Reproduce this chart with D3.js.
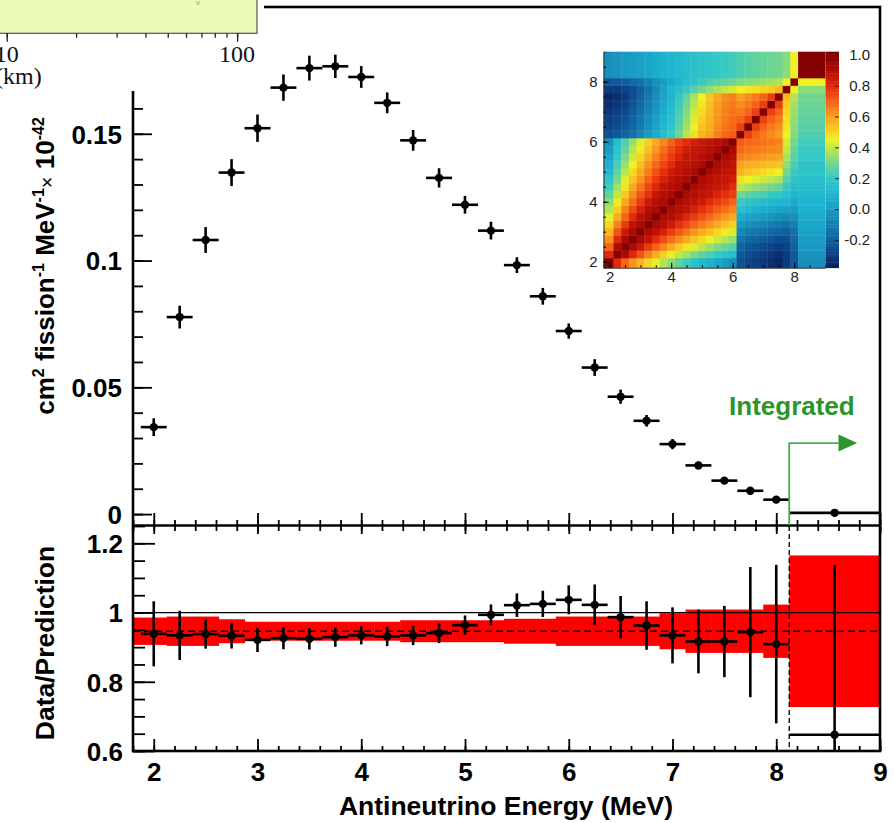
<!DOCTYPE html>
<html lang="en">
<head>
<meta charset="UTF-8">
<title>Antineutrino spectrum</title>
<script src="https://d3js.org/d3.v7.min.js"></script>
<style>
  body { margin: 0; background: #fff; }
</style>
</head>
<body>
<svg id="chart" width="894" height="823"></svg>
<script>
// measured spectrum, 0.25 MeV bins
const energy = [2.0, 2.25, 2.5, 2.75, 3.0, 3.25, 3.5, 3.75, 4.0, 4.25, 4.5, 4.75, 5.0,
                5.25, 5.5, 5.75, 6.0, 6.25, 6.5, 6.75, 7.0, 7.25, 7.5, 7.75, 8.0];
const flux = [0.0343, 0.0777, 0.1081, 0.1347, 0.1522, 0.1682, 0.1759, 0.1766, 0.1724, 0.1622,
              0.1474, 0.1326, 0.1220, 0.1118, 0.0982, 0.0859, 0.0722, 0.0578, 0.0463, 0.0368,
              0.0276, 0.0192, 0.0132, 0.0092, 0.0057];
const fluxErr = [0.0035, 0.0045, 0.0051, 0.0053, 0.0054, 0.0052, 0.0049, 0.0046, 0.0043, 0.0041,
                 0.0041, 0.0038, 0.0035, 0.0035, 0.0031, 0.0033, 0.0030, 0.0033, 0.0028, 0.0023,
                 0.0020, 0.0015, 0.0012, 0.0010, 0.0008];
const ratio = [0.9385, 0.934, 0.9377, 0.933, 0.921, 0.926, 0.924, 0.929, 0.934, 0.931,
               0.934, 0.9405, 0.9636, 0.9934, 1.0213, 1.025, 1.0367, 1.0222, 0.9867, 0.9625,
               0.934, 0.9163, 0.9163, 0.9434, 0.9088];
const ratioErr = [0.094, 0.071, 0.042, 0.037, 0.035, 0.032, 0.031, 0.028, 0.026, 0.028,
                  0.028, 0.029, 0.028, 0.030, 0.034, 0.038, 0.042, 0.059, 0.061, 0.070,
                  0.081, 0.092, 0.103, 0.188, 0.229];
const binHalf = 0.125;

// integrated bin above 8.125 MeV
const intLow = 8.125, intHigh = 9, intCenter = 8.5625;
const intFlux = 0.0005;
const intRatio = 0.647, intRatioErr = 0.49;

// prediction band (normalised), one entry per bin incl. integrated
const predNorm = 0.946;
const binEdges = [1.8, 2.125, 2.375, 2.625, 2.875, 3.125, 3.375, 3.625, 3.875, 4.125, 4.375,
                  4.625, 4.875, 5.125, 5.375, 5.625, 5.875, 6.125, 6.375, 6.625, 6.875,
                  7.125, 7.375, 7.625, 7.875, 8.125, 9];
const bandErr = [0.0395, 0.0424, 0.0424, 0.0346, 0.0274, 0.0274, 0.0274, 0.0274, 0.0274, 0.0274,
                 0.0317, 0.0317, 0.0317, 0.0317, 0.036, 0.036, 0.0424, 0.0424, 0.0424, 0.0424,
                 0.052, 0.0626, 0.0626, 0.0626, 0.077, 0.219];

// correlation matrix, lower triangle (row i holds columns 0..i)
const corrRows = [
  [1],
  [0.80, 1],
  [0.70, 0.91, 1],
  [0.62, 0.81, 0.91, 1],
  [0.56, 0.73, 0.85, 0.91, 1],
  [0.50, 0.65, 0.77, 0.87, 0.91, 1],
  [0.44, 0.58, 0.70, 0.80, 0.88, 0.91, 1],
  [0.38, 0.51, 0.64, 0.74, 0.83, 0.89, 0.91, 1],
  [0.33, 0.46, 0.58, 0.68, 0.77, 0.85, 0.89, 0.91, 1],
  [0.27, 0.40, 0.52, 0.63, 0.72, 0.79, 0.86, 0.89, 0.91, 1],
  [0.22, 0.36, 0.47, 0.58, 0.67, 0.75, 0.81, 0.87, 0.89, 0.91, 1],
  [0.17, 0.31, 0.43, 0.53, 0.62, 0.70, 0.77, 0.83, 0.87, 0.89, 0.91, 1],
  [0.12, 0.27, 0.39, 0.49, 0.58, 0.66, 0.73, 0.79, 0.85, 0.87, 0.89, 0.91, 1],
  [0.08, 0.24, 0.35, 0.45, 0.54, 0.62, 0.69, 0.75, 0.80, 0.86, 0.87, 0.89, 0.91, 1],
  [0.04, 0.20, 0.31, 0.41, 0.50, 0.58, 0.65, 0.71, 0.77, 0.82, 0.86, 0.87, 0.89, 0.91, 1],
  [0.00, 0.17, 0.28, 0.38, 0.46, 0.54, 0.61, 0.68, 0.74, 0.79, 0.84, 0.86, 0.87, 0.89, 0.91, 1],
  [-0.04, 0.14, 0.25, 0.35, 0.43, 0.51, 0.58, 0.64, 0.70, 0.76, 0.80, 0.84, 0.86, 0.87, 0.89, 0.91, 1],
  [-0.24, -0.22, -0.19, -0.14, -0.08, -0.01, 0.06, 0.14, 0.21, 0.30, 0.39, 0.48, 0.56, 0.59, 0.65, 0.69, 0.71, 1],
  [-0.27, -0.25, -0.22, -0.17, -0.11, -0.04, 0.03, 0.11, 0.18, 0.27, 0.36, 0.45, 0.53, 0.57, 0.63, 0.67, 0.69, 0.76, 1],
  [-0.29, -0.27, -0.24, -0.19, -0.13, -0.06, 0.01, 0.09, 0.16, 0.25, 0.34, 0.43, 0.51, 0.56, 0.62, 0.66, 0.68, 0.70, 0.76, 1],
  [-0.31, -0.29, -0.26, -0.21, -0.15, -0.08, -0.01, 0.07, 0.14, 0.23, 0.32, 0.41, 0.49, 0.55, 0.61, 0.65, 0.67, 0.66, 0.70, 0.76, 1],
  [-0.33, -0.31, -0.28, -0.23, -0.17, -0.10, -0.03, 0.05, 0.12, 0.21, 0.30, 0.39, 0.47, 0.54, 0.60, 0.64, 0.66, 0.63, 0.66, 0.70, 0.76, 1],
  [-0.35, -0.33, -0.30, -0.25, -0.19, -0.12, -0.05, 0.03, 0.10, 0.19, 0.28, 0.37, 0.45, 0.53, 0.59, 0.63, 0.65, 0.60, 0.63, 0.66, 0.70, 0.76, 1],
  [-0.30, -0.30, -0.28, -0.25, -0.20, -0.14, -0.06, 0.02, 0.10, 0.15, 0.20, 0.26, 0.30, 0.34, 0.37, 0.40, 0.42, 0.45, 0.47, 0.48, 0.50, 0.52, 0.55, 1],
  [-0.22, -0.22, -0.20, -0.18, -0.15, -0.10, -0.05, 0.00, 0.05, 0.10, 0.14, 0.18, 0.21, 0.24, 0.26, 0.28, 0.30, 0.32, 0.33, 0.34, 0.35, 0.36, 0.38, 0.45, 1],
  [-0.05, -0.03, -0.01, 0.00, 0.02, 0.04, 0.06, 0.08, 0.10, 0.12, 0.14, 0.16, 0.17, 0.18, 0.20, 0.21, 0.22, 0.24, 0.26, 0.27, 0.28, 0.29, 0.30, 0.33, 0.45, 1]
];
const paletteStops = [-0.38, -0.3, -0.2, -0.1, 0.0, 0.1, 0.2, 0.3, 0.4, 0.45, 0.5, 0.6, 0.7, 0.8, 0.9, 1.02];
const paletteColors = ["#081c58", "#0c3c80", "#1060a0", "#1580b0", "#1a9cc4", "#20b6d0", "#34c8c6",
                       "#72d690", "#c2e844", "#eef222", "#f8d422", "#f8a020", "#f66218", "#e22a0c",
                       "#b00c04", "#7a0000"];
const colorTicks = [-0.2, 0.0, 0.2, 0.4, 0.6, 0.8, 1.0];
const insetTicks = [2, 4, 6, 8];

const upperTicks = [0, 0.05, 0.1, 0.15];
const lowerTicks = [0.6, 0.8, 1, 1.2];
const energyTicks = [2, 3, 4, 5, 6, 7, 8, 9];
const distTicks = [10, 20, 30, 40, 50, 60, 70, 80, 90, 100];

const FONT = '"Liberation Sans", Arial, Helvetica, sans-serif';
const SERIF = '"Liberation Serif", "Times New Roman", serif';

const svg = d3.select("#chart");

const x = d3.scaleLinear().domain([1.8, 9]).range([133, 880]);
const yTop = d3.scaleLinear().domain([-0.0043, 0.2]).range([525, 7]);
const yBot = d3.scaleLinear().domain([0.6, 1.25]).range([751, 526]);

svg.append("defs").append("clipPath").attr("id", "lowclip")
  .append("rect").attr("x", 133).attr("y", 526).attr("width", 747).attr("height", 225);

// ---- lower panel: band, reference lines
const low = svg.append("g").attr("clip-path", "url(#lowclip)");
low.selectAll("rect.band").data(bandErr).join("rect")
  .attr("class", "band")
  .attr("x", (d, i) => x(binEdges[i]))
  .attr("width", (d, i) => x(binEdges[i + 1]) - x(binEdges[i]) + 0.5)
  .attr("y", d => yBot(predNorm + d))
  .attr("height", d => yBot(predNorm - d) - yBot(predNorm + d))
  .attr("fill", "#ff0000");

low.append("line").attr("x1", 133).attr("x2", 880).attr("y1", yBot(1)).attr("y2", yBot(1))
  .attr("stroke", "#000").attr("stroke-width", 1.2);
low.append("line").attr("x1", 133).attr("x2", 877).attr("y1", yBot(predNorm)).attr("y2", yBot(predNorm))
  .attr("stroke", "#000").attr("stroke-width", 1.6).attr("stroke-dasharray", "7,4");
low.append("line").attr("x1", x(intLow)).attr("x2", x(intLow)).attr("y1", 526).attr("y2", 751)
  .attr("stroke", "#000").attr("stroke-width", 1.3).attr("stroke-dasharray", "5,3");

function crosses(g, xs, ys, yerr, yScale) {
  xs.forEach((e, i) => {
    const px = x(e), py = yScale(ys[i]);
    g.append("line").attr("x1", x(e - binHalf)).attr("x2", x(e + binHalf)).attr("y1", py).attr("y2", py);
    g.append("line").attr("x1", px).attr("x2", px)
      .attr("y1", yScale(ys[i] - yerr[i])).attr("y2", yScale(ys[i] + yerr[i]));
    g.append("circle").attr("cx", px).attr("cy", py).attr("r", 4.2).attr("fill", "#000").attr("stroke", "none");
  });
}

const lowPts = low.append("g").attr("stroke", "#000").attr("stroke-width", 2.6);
crosses(lowPts, energy, ratio, ratioErr, yBot);
lowPts.append("line").attr("x1", x(intLow)).attr("x2", x(intHigh))
  .attr("y1", yBot(intRatio)).attr("y2", yBot(intRatio));
lowPts.append("line").attr("x1", x(intCenter)).attr("x2", x(intCenter))
  .attr("y1", yBot(intRatio - intRatioErr)).attr("y2", yBot(intRatio + intRatioErr));
lowPts.append("circle").attr("cx", x(intCenter)).attr("cy", yBot(intRatio)).attr("r", 4.2).attr("stroke", "none");

// ---- upper panel points
const upPts = svg.append("g").attr("stroke", "#000").attr("stroke-width", 2.6);
crosses(upPts, energy, flux, fluxErr, yTop);
upPts.append("line").attr("x1", x(intLow)).attr("x2", x(intHigh))
  .attr("y1", yTop(intFlux)).attr("y2", yTop(intFlux));
upPts.append("circle").attr("cx", x(intCenter)).attr("cy", yTop(intFlux)).attr("r", 4.2).attr("stroke", "none");

// ---- axes
function styleAxis(g, size) {
  g.select(".domain").remove();
  g.attr("font-family", FONT).attr("font-size", size).attr("font-weight", "bold");
  g.selectAll(".tick line").attr("stroke", "#000").attr("stroke-width", 1.8);
  g.selectAll(".tick text").attr("fill", "#000");
}

svg.append("g").attr("transform", "translate(133,0)")
  .call(d3.axisLeft(yTop).tickValues(d3.range(0, 0.175, 0.01)).tickSize(-10).tickFormat(""))
  .call(g => styleAxis(g, 26));
svg.append("g").attr("transform", "translate(133,0)")
  .call(d3.axisLeft(yTop).tickValues(upperTicks).tickSize(-19).tickPadding(11).tickFormat(d => String(d)))
  .call(g => styleAxis(g, 26))
  .call(g => g.selectAll(".tick text").attr("dy", "0.36em"));

svg.append("g").attr("transform", "translate(133,0)")
  .call(d3.axisLeft(yBot).tickValues(d3.range(0.6, 1.26, 0.05)).tickSize(-12).tickFormat(""))
  .call(g => styleAxis(g, 26));
svg.append("g").attr("transform", "translate(133,0)")
  .call(d3.axisLeft(yBot).tickValues(lowerTicks).tickSize(-22).tickPadding(10).tickFormat(d => String(d)))
  .call(g => styleAxis(g, 26))
  .call(g => g.selectAll(".tick text").attr("dy", "0.36em"));

const minorE = d3.range(1.8, 9.01, 0.2);
[[525, "bottom", -12, -5], [526, "top", -8, -5], [751, "bottom", -12, -5]].forEach(([yy, side, big, small]) => {
  const mk = side === "top" ? d3.axisTop : d3.axisBottom;
  svg.append("g").attr("transform", `translate(0,${yy})`)
    .call(mk(x).tickValues(minorE).tickSize(small).tickFormat(""))
    .call(g => styleAxis(g, 26));
  svg.append("g").attr("transform", `translate(0,${yy})`)
    .call(mk(x).tickValues(energyTicks).tickSize(big).tickFormat(""))
    .call(g => styleAxis(g, 26));
});
svg.append("g").attr("transform", "translate(0,751)")
  .call(d3.axisBottom(x).tickValues(energyTicks).tickSize(0).tickPadding(12).tickFormat(d => String(d)))
  .call(g => styleAxis(g, 26));

// frame
svg.append("rect").attr("x", 133).attr("y", 7).attr("width", 747).attr("height", 744)
  .attr("fill", "none").attr("stroke", "#000").attr("stroke-width", 2.6);
svg.append("line").attr("x1", 133).attr("x2", 880).attr("y1", 525.5).attr("y2", 525.5)
  .attr("stroke", "#000").attr("stroke-width", 2.6);

// axis titles
svg.append("text").attr("x", 506).attr("y", 815).attr("text-anchor", "middle")
  .attr("font-family", FONT).attr("font-size", 26.5).attr("font-weight", "bold")
  .text("Antineutrino Energy (MeV)");

svg.append("text").attr("transform", "translate(54,643) rotate(-90)").attr("text-anchor", "middle")
  .attr("font-family", FONT).attr("font-size", 26.5).attr("font-weight", "bold")
  .text("Data/Prediction");

const yt = svg.append("text").attr("transform", "translate(54,266) rotate(-90)").attr("text-anchor", "middle")
  .attr("font-family", FONT).attr("font-size", 26).attr("font-weight", "bold");
[["cm", 0], ["2", 1], [" fission", 0], ["-1", 1], [" MeV", 0], ["-1", 1], ["\u00d7", 2], [" 10", 0], ["-42", 1]]
  .forEach(([t, k]) => {
    const s = yt.append("tspan").text(t);
    if (k === 1) s.attr("font-size", 16).attr("baseline-shift", "62%");
    if (k === 2) s.attr("font-size", 20).attr("font-weight", "normal");
  });

// ---- "Integrated" annotation
const green = "#2a962a";
svg.append("path")
  .attr("d", `M${x(intLow)},525 V${yTop(0.028)} H${x(8.6)}`)
  .attr("fill", "none").attr("stroke", "#46b046").attr("stroke-width", 1.8);
svg.append("path")
  .attr("d", `M${x(8.6)},${yTop(0.028) - 8.5} L${x(8.78)},${yTop(0.028)} L${x(8.6)},${yTop(0.028) + 8.5} Z`)
  .attr("fill", green);
svg.append("text").attr("x", x(7.545)).attr("y", yTop(0.039))
  .attr("font-family", FONT).attr("font-size", 26).attr("font-weight", "bold").attr("fill", green)
  .text("Integrated");

// ---- correlation inset
const xh = d3.scaleLinear().domain([1.8, 9]).range([603.5, 825]);
const yh = d3.scaleLinear().domain([1.8, 9]).range([267.7, 51.7]);
const pal = d3.scaleLinear().domain(paletteStops).range(paletteColors).interpolate(d3.interpolateRgb).clamp(true);
const nb = corrRows.length;
const cells = [];
for (let i = 0; i < nb; i++) for (let j = 0; j < nb; j++) {
  cells.push({ i, j, v: i >= j ? corrRows[i][j] : corrRows[j][i] });
}
const inset = svg.append("g");
inset.selectAll("rect.cell").data(cells).join("rect")
  .attr("class", "cell")
  .attr("x", d => xh(binEdges[d.i]))
  .attr("width", d => xh(binEdges[d.i + 1]) - xh(binEdges[d.i]) + 0.4)
  .attr("y", d => yh(binEdges[d.j + 1]))
  .attr("height", d => yh(binEdges[d.j]) - yh(binEdges[d.j + 1]) + 0.4)
  .attr("fill", d => pal(d.v));

const zc = d3.scaleLinear().domain([-0.38, 1.02]).range([267.7, 51.7]);
const zSteps = d3.range(0, 80);
inset.selectAll("rect.cbar").data(zSteps).join("rect")
  .attr("class", "cbar")
  .attr("x", 825.5).attr("width", 13.5)
  .attr("y", k => zc(-0.38 + (k + 1) * 1.4 / 80))
  .attr("height", 216 / 80 + 0.4)
  .attr("fill", k => pal(-0.38 + (k + 0.5) * 1.4 / 80));
inset.append("g").attr("transform", "translate(839,0)")
  .call(d3.axisLeft(zc).tickValues(colorTicks).tickSize(4).tickFormat(""))
  .call(g => g.select(".domain").remove())
  .call(g => g.selectAll(".tick line").attr("stroke", "#222"));
inset.selectAll("text.zl").data(colorTicks).join("text")
  .attr("class", "zl")
  .attr("x", 870).attr("y", d => zc(d)).attr("dy", "0.36em").attr("text-anchor", "end")
  .attr("font-family", FONT).attr("font-size", 15).attr("fill", "#222")
  .text(d => d3.format(".1f")(d).replace("\u2212", "-"));

inset.append("g").attr("transform", "translate(0,267.7)")
  .call(d3.axisBottom(xh).tickValues(d3.range(2, 9, 0.5)).tickSize(-2.5).tickFormat(""))
  .call(g => g.select(".domain").attr("stroke", "#333"));
inset.append("g").attr("transform", "translate(0,267.7)")
  .call(d3.axisBottom(xh).tickValues(insetTicks).tickSize(-5).tickPadding(4).tickFormat(d => String(d)))
  .call(g => g.select(".domain").remove())
  .attr("font-family", FONT).attr("font-size", 15)
  .call(g => g.selectAll("text").attr("fill", "#222"));
inset.append("g").attr("transform", "translate(603.5,0)")
  .call(d3.axisLeft(yh).tickValues(d3.range(2, 9, 0.5)).tickSize(-2.5).tickFormat(""))
  .call(g => g.select(".domain").attr("stroke", "#333"));
inset.append("g").attr("transform", "translate(603.5,0)")
  .call(d3.axisLeft(yh).tickValues(insetTicks).tickSize(-5).tickPadding(6).tickFormat(d => String(d)))
  .call(g => g.select(".domain").remove())
  .attr("font-family", FONT).attr("font-size", 15)
  .call(g => g.selectAll("text").attr("fill", "#222"));

// ---- piece of the neighbouring figure at top left
const ov = svg.append("g");
ov.append("rect").attr("x", 0).attr("y", 0).attr("width", 264).attr("height", 91).attr("fill", "#fff");
ov.append("rect").attr("x", -2).attr("y", -2).attr("width", 259).attr("height", 35.3)
  .attr("fill", "#ecfbb9").attr("stroke", "#555").attr("stroke-width", 1.2);
ov.append("text").attr("x", 196).attr("y", 5).attr("font-family", FONT).attr("font-size", 8)
  .attr("fill", "#7ab34c").text("v");
const xd = d3.scaleLog().domain([9.35, 122]).range([0, 257]);
ov.append("g").attr("transform", "translate(0,33.3)")
  .call(d3.axisBottom(xd).tickValues(distTicks).tickSize(4.5).tickFormat(""))
  .call(g => g.select(".domain").remove())
  .call(g => g.selectAll(".tick line").attr("stroke", "#222").attr("stroke-width", 1.3));
ov.append("g").attr("transform", "translate(0,33.3)")
  .call(d3.axisBottom(xd).tickValues([10, 100]).tickSize(8.5).tickFormat(""))
  .call(g => g.select(".domain").remove())
  .call(g => g.selectAll(".tick line").attr("stroke", "#222").attr("stroke-width", 1.3));
ov.selectAll("text.dl").data([10, 100]).join("text")
  .attr("class", "dl")
  .attr("x", d => xd(d)).attr("y", 62).attr("text-anchor", "middle")
  .attr("font-family", SERIF).attr("font-size", 24).attr("fill", "#111")
  .text(d => String(d));
ov.append("text").attr("x", -5).attr("y", 84)
  .attr("font-family", SERIF).attr("font-size", 24).attr("fill", "#111")
  .text("(km)");
</script>
</body>
</html>
